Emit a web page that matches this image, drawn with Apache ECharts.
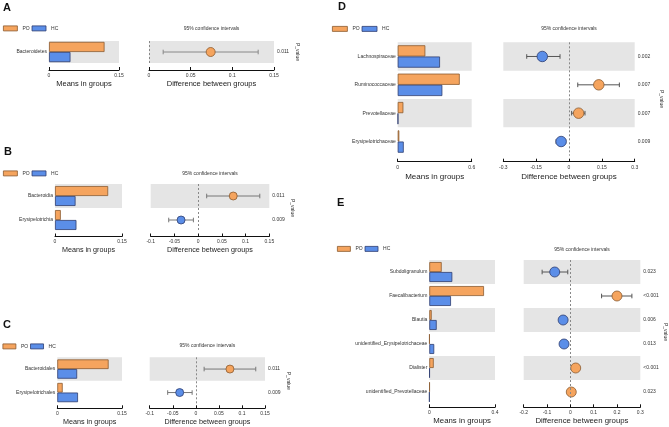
<!DOCTYPE html>
<html><head><meta charset="utf-8">
<script src="https://cdn.jsdelivr.net/npm/echarts@6/dist/echarts.min.js"></script>
<style>html,body{margin:0;padding:0;background:#fff}#c{width:669px;height:427px}</style>
</head><body><div id="c"></div>
<script>
// ---------- Data ----------
const groups = ['PO', 'HC'];

const aTaxa = ['Bacteroidetes'];
const aPO = [0.119];
const aHC = [0.046];
const aDiff = [0.074];
const aLow = [0.017];
const aHigh = [0.131];
const aP = ['0.011'];

const bTaxa = ['Bacteroidia', 'Erysipelotrichia'];
const bPO = [0.119, 0.013];
const bHC = [0.046, 0.048];
const bDiff = [0.074, -0.036];
const bLow = [0.018, -0.062];
const bHigh = [0.130, -0.010];
const bP = ['0.011', '0.009'];

const cTaxa = ['Bacteroidales', 'Erysipelotrichales'];
const cPO = [0.119, 0.0125];
const cHC = [0.046, 0.048];
const cDiff = [0.074, -0.035];
const cLow = [0.018, -0.061];
const cHigh = [0.130, -0.008];
const cP = ['0.011', '0.009'];

const dTaxa = ['Lachnospiraceae', 'Ruminococcaceae', 'Prevotellaceae', 'Erysipelotrichaceae'];
const dPO = [0.224, 0.503, 0.046, 0.013];
const dHC = [0.343, 0.362, 0.004, 0.049];
const dDiff = [-0.122, 0.136, 0.044, -0.036];
const dLow = [-0.193, 0.040, 0.012, -0.059];
const dHigh = [-0.041, 0.230, 0.073, -0.015];
const dP = ['0.002', '0.007', '0.007', '0.009'];

const eTaxa = ['Subdoligranulum', 'Faecalibacterium', 'Blautia', 'unidentified_Erysipelotrichaceae', 'Dialister', 'unidentified_Prevotellaceae'];
const ePO = [0.0755, 0.333, 0.0146, 0.002, 0.027, 0.003];
const eHC = [0.140, 0.132, 0.045, 0.030, 0.003, 0.001];
const eDiff = [-0.067, 0.200, -0.031, -0.027, 0.023, 0.004];
const eLow = [-0.121, 0.134, -0.046, -0.034, 0.017, 0.001];
const eHigh = [-0.011, 0.264, -0.017, -0.020, 0.029, 0.008];
const eP = ['0.023', '<0.001', '0.006', '0.013', '<0.001', '0.023'];

// axis ranges / tick steps
const meanMax = [0.15, 0.15, 0.15, 0.6, 0.4];
const ciMin = [0, -0.1, -0.1, -0.3, -0.2];
const ciMax = [0.15, 0.15, 0.15, 0.3, 0.3];
const ciStep = [0.05, 0.05, 0.05, 0.15, 0.1];
const letters = ['A', 'B', 'C', 'D', 'E'];

const panels = [
  {taxa: aTaxa, po: aPO, hc: aHC, diff: aDiff, lo: aLow, hi: aHigh, p: aP},
  {taxa: bTaxa, po: bPO, hc: bHC, diff: bDiff, lo: bLow, hi: bHigh, p: bP},
  {taxa: cTaxa, po: cPO, hc: cHC, diff: cDiff, lo: cLow, hi: cHigh, p: cP},
  {taxa: dTaxa, po: dPO, hc: dHC, diff: dDiff, lo: dLow, hi: dHigh, p: dP},
  {taxa: eTaxa, po: ePO, hc: eHC, diff: eDiff, lo: eLow, hi: eHigh, p: eP}
];

// ---------- Layout ----------
const layouts = [
  {lx: 3, ly: 2.5, legL: 3, legT: 25.5, itemW: 14, titleY: 28.3, bar: [49, 41, 70, 22], ci: [149, 125], off: 7, nameGap: 10, nameSize: 7.5, pGap: 21, dot: 9, gap: '8%', err: '#888'},
  {lx: 4, ly: 146.5, legL: 3, legT: 170.5, itemW: 14, titleY: 173.3, bar: [55, 184, 67, 48], ci: [150.7, 118.6], off: 4.5, nameGap: 10, nameSize: 7.2, pGap: 20.5, dot: 8, gap: '17%', err: '#777'},
  {lx: 3, ly: 319, legL: 2.5, legT: 343.5, itemW: 13, titleY: 346, bar: [57.3, 357.3, 64.7, 47], ci: [149.7, 115.3], off: 4, nameGap: 10.5, nameSize: 7.2, pGap: 21, dot: 8, gap: '18%', err: '#777'},
  {lx: 338, ly: 1.5, legL: 332, legT: 26, itemW: 15, titleY: 29, bar: [397.7, 42.3, 74, 113.4], ci: [503.3, 131.4], off: 6, nameGap: 11, nameSize: 8, pGap: 24, dot: 10.5, gap: '21%', err: '#555'},
  {lx: 337, ly: 197.5, legL: 337, legT: 246, itemW: 13, titleY: 250, bar: [429.3, 260, 65.7, 144], ci: [523.7, 116.6], off: 3.3, nameGap: 9.5, nameSize: 7.8, pGap: 19, dot: 10, gap: '17%', err: '#555'}
];

const FONT = 'Liberation Sans, Arial, sans-serif';
const ORANGE = '#f5a45e', ORANGE_B = '#8a5a30';
const BLUE = '#5b8ee8', BLUE_B = '#2e3d70';
const BAND = '#e5e5e5';

const option = {
  animation: false,
  backgroundColor: '#ffffff',
  textStyle: {fontFamily: FONT},
  grid: [], xAxis: [], yAxis: [], series: [], legend: [], graphic: []
};

function xAxisBase(L, grid, min, max, step, name) {
  return {
    gridIndex: grid, type: 'value', min: min, max: max, interval: step,
    position: 'bottom', offset: L.off,
    axisLine: {show: true, onZero: false, lineStyle: {color: '#111', width: 1}},
    axisTick: {show: true, inside: true, length: 3, lineStyle: {color: '#111', width: 1}},
    splitLine: {show: false},
    axisLabel: {fontSize: 5, margin: 3, color: '#333', fontFamily: FONT},
    name: name, nameLocation: 'middle', nameGap: L.nameGap,
    nameTextStyle: {fontSize: L.nameSize, color: '#222', fontFamily: FONT}
  };
}

panels.forEach((P, k) => {
  const L = layouts[k];
  const gb = 2 * k, gc = 2 * k + 1;
  option.grid.push({left: L.bar[0], top: L.bar[1], width: L.bar[2], height: L.bar[3], containLabel: false, outerBoundsMode: 'none'});
  option.grid.push({left: L.ci[0], top: L.bar[1], width: L.ci[1], height: L.bar[3], containLabel: false, outerBoundsMode: 'none'});

  option.xAxis.push(xAxisBase(L, gb, 0, meanMax[k], meanMax[k], 'Means in groups'));
  option.xAxis.push(xAxisBase(L, gc, ciMin[k], ciMax[k], ciStep[k], 'Difference between groups'));

  const split = {show: true, areaStyle: {color: [BAND, 'rgba(255,255,255,0)']}};
  option.yAxis.push({
    gridIndex: gb, type: 'category', data: P.taxa, inverse: true,
    axisLine: {show: false}, axisTick: {show: false}, splitLine: {show: false},
    splitArea: split,
    axisLabel: {fontSize: 5, margin: 2, color: '#333', fontFamily: FONT}
  });
  option.yAxis.push({
    gridIndex: gc, type: 'category', data: P.taxa, inverse: true, position: 'right',
    axisLine: {show: false}, axisTick: {show: false}, splitLine: {show: false},
    splitArea: split,
    axisLabel: {fontSize: 5, margin: 3, color: '#333', fontFamily: FONT, formatter: (v, i) => P.p[i]},
    name: 'P_value', nameLocation: 'middle', nameRotate: -90, nameGap: L.pGap,
    nameTextStyle: {fontSize: 5, color: '#333', fontFamily: FONT}
  });

  option.series.push({
    name: 'PO', type: 'bar', xAxisIndex: gb, yAxisIndex: gb, data: P.po,
    barGap: '0%', barCategoryGap: L.gap,
    itemStyle: {color: ORANGE, borderColor: ORANGE_B, borderWidth: 0.8}
  });
  option.series.push({
    name: 'HC', type: 'bar', xAxisIndex: gb, yAxisIndex: gb, data: P.hc,
    barGap: '0%', barCategoryGap: L.gap,
    itemStyle: {color: BLUE, borderColor: BLUE_B, borderWidth: 0.8}
  });
  option.series.push({
    name: 'ci', type: 'custom', xAxisIndex: gc, yAxisIndex: gc, z: 2,
    data: P.taxa.map((t, i) => [P.lo[i], P.hi[i], i]),
    encode: {x: [0, 1], y: 2},
    renderItem: function (params, api) {
      const y = api.value(2);
      const p1 = api.coord([api.value(0), y]);
      const p2 = api.coord([api.value(1), y]);
      const h = 2.3;
      const st = {stroke: L.err, lineWidth: 1, fill: null};
      return {type: 'group', children: [
        {type: 'line', shape: {x1: p1[0], y1: p1[1], x2: p2[0], y2: p2[1]}, style: st},
        {type: 'line', shape: {x1: p1[0], y1: p1[1] - h, x2: p1[0], y2: p1[1] + h}, style: st},
        {type: 'line', shape: {x1: p2[0], y1: p2[1] - h, x2: p2[0], y2: p2[1] + h}, style: st}
      ]};
    }
  });
  option.series.push({
    name: 'diff', type: 'scatter', xAxisIndex: gc, yAxisIndex: gc, z: 3,
    symbol: 'circle', symbolSize: L.dot,
    data: P.diff.map((d, i) => ({
      value: [d, i],
      itemStyle: {color: d > 0 ? ORANGE : BLUE, borderColor: d > 0 ? ORANGE_B : BLUE_B, borderWidth: 0.8, opacity: 1}
    })),
    markLine: {
      silent: true, symbol: ['none', 'none'], label: {show: false},
      lineStyle: {type: [2, 2], color: '#888', width: 1},
      data: [{xAxis: 0}]
    }
  });

  option.legend.push({
    left: L.legL, top: L.legT, padding: 0, orient: 'horizontal',
    data: groups, itemWidth: L.itemW, itemHeight: 5, itemGap: 2, icon: 'rect',
    itemStyle: {borderWidth: 0.8},
    textStyle: {fontSize: 5, color: '#333', fontFamily: FONT}, selectedMode: false
  });

  option.graphic.push({
    type: 'text', x: L.lx, y: L.ly,
    style: {text: letters[k], font: 'bold 11px ' + FONT, fill: '#111', align: 'left', verticalAlign: 'top'}
  });
  option.graphic.push({
    type: 'text', x: L.ci[0] + L.ci[1] / 2, y: L.titleY,
    style: {text: '95% confidence intervals', font: '5px ' + FONT, fill: '#333', align: 'center', verticalAlign: 'middle'}
  });
});

const chart = echarts.init(document.getElementById('c'), null, {renderer: 'canvas'});
chart.setOption(option);
</script>
</body></html>
